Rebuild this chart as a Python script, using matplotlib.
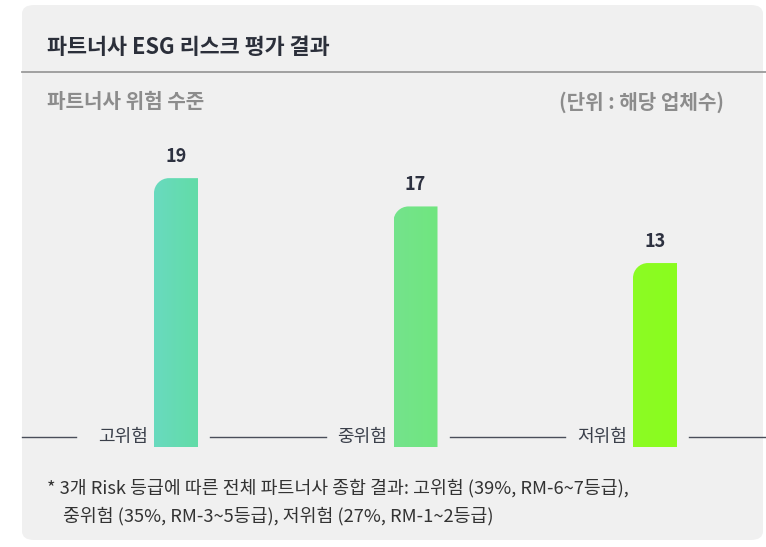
import numpy as np
import matplotlib.pyplot as plt
from matplotlib.colors import to_rgb
from matplotlib.patches import FancyBboxPatch, PathPatch
from matplotlib.path import Path

plt.rcParams['font.family'] = ['Noto Sans CJK KR', 'DejaVu Sans']

# data
categories = ['고위험', '중위험', '저위험']
counts = [19, 17, 13]
bar_colors = [('#69dabf', '#62dca7'), ('#74e38c', '#70e67f'), ('#8cfb24', '#8afd1e')]

title = '파트너사 ESG 리스크 평가 결과'
subtitle = '파트너사 위험 수준'
unit_note = '(단위 : 해당 업체수)'
footnote = ['* 3개 Risk 등급에 따른 전체 파트너사 종합 결과: 고위험 (39%, RM-6~7등급),',
            '중위험 (35%, RM-3~5등급), 저위험 (27%, RM-1~2등급)']

W, H = 766, 547
fig = plt.figure(figsize=(W / 100, H / 100), dpi=100)
fig.patch.set_facecolor('white')

def fx(px):
    return px / W

def fy(py):
    return 1 - py / H

# grey card behind everything
card = FancyBboxPatch((fx(22), fy(540)), fx(741), 535 / H,
                      boxstyle='round,pad=0,rounding_size=0.016',
                      transform=fig.transFigure, facecolor='#f0f0f0',
                      edgecolor='none', zorder=-5)
fig.patches.append(card)

fig.text(fx(47), fy(47), title, fontsize=15.7, fontweight='bold',
         color='#2b2f3a', va='center', ha='left')
fig.add_artist(plt.Line2D([fx(22), fx(766)], [fy(72), fy(72)],
                          color='#9a9a9a', lw=1.3, transform=fig.transFigure))
fig.text(fx(47), fy(102), subtitle, fontsize=14.5, fontweight='bold',
         color='#8c8c8c', va='center', ha='left')
fig.text(fx(724), fy(102), unit_note, fontsize=14.5, fontweight='bold',
         color='#8c8c8c', va='center', ha='right')

fig.text(fx(47), fy(488), footnote[0], fontsize=13.2, color='#333333',
         va='center', ha='left')
fig.text(fx(63), fy(516), footnote[1], fontsize=13.2, color='#333333',
         va='center', ha='left')

# chart area: baseline at y=447px, bar spacing ~239.5px
px_per_unit = 14.15
step = 239.5
first = 176
ax = fig.add_axes([fx(22), fy(447), fx(744), (447 - 140) / H])
ax.set_facecolor('none')
ax.axis('off')

x = np.arange(len(categories))
bar_w = 44 / step
bars = ax.bar(x, counts, width=bar_w, color='none', edgecolor='none')

# only the top-left corner of each bar is rounded; fill is a soft left-right gradient
rx = 15 / step
ry = 15 / px_per_unit
k = 0.5523
for rect, (c0, c1) in zip(bars, bar_colors):
    x0 = rect.get_x()
    x1 = x0 + rect.get_width()
    h = rect.get_height()
    verts = [(x0, 0), (x0, h - ry),
             (x0, h - ry + k * ry), (x0 + rx - k * rx, h), (x0 + rx, h),
             (x1, h), (x1, 0), (x0, 0)]
    codes = [Path.MOVETO, Path.LINETO,
             Path.CURVE4, Path.CURVE4, Path.CURVE4,
             Path.LINETO, Path.LINETO, Path.CLOSEPOLY]
    patch = PathPatch(Path(verts, codes), facecolor='none', edgecolor='none')
    ax.add_patch(patch)
    a = np.array(to_rgb(c0))
    b = np.array(to_rgb(c1))
    t = np.linspace(0, 1, 64)[None, :, None]
    grad = a + (b - a) * t
    im = ax.imshow(grad, extent=(x0, x1, 0, h), aspect='auto',
                   interpolation='bilinear', zorder=2)
    im.set_clip_path(patch)
    ax.text(rect.get_x() + rect.get_width() / 2, h + 22 / px_per_unit,
            str(int(h)), ha='center', va='center', fontsize=13,
            fontweight='bold', color='#2d3140')

ax.set_xlim((22 - first) / step, (766 - first) / step)
ax.set_ylim(0, (447 - 140) / px_per_unit)

# category labels sit left of each bar on a thin rule
label_y = 10 / px_per_unit
for i, cat in enumerate(categories):
    ax.text(i - 28 / step, label_y, cat, ha='right', va='center',
            fontsize=13, color='#3a3f4a')
seg_y = label_y
ax.plot([(22 - first) / step, (76 - first) / step], [seg_y, seg_y],
        color='#4a4e5a', lw=1, clip_on=False)
for i in range(len(categories)):
    start = i + 34 / step
    end = i + 1 - 90 / step if i < len(categories) - 1 else (766 - first) / step
    ax.plot([start, end], [seg_y, seg_y], color='#4a4e5a', lw=1, clip_on=False)

fig.savefig('out.png', dpi=100, facecolor=fig.get_facecolor())
